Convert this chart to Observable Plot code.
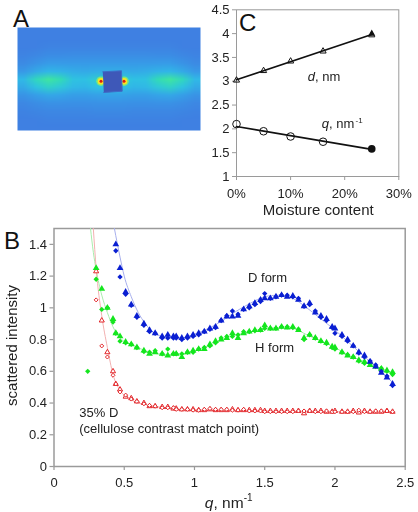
<!DOCTYPE html>
<html><head><meta charset="utf-8">
<script src="https://cdn.jsdelivr.net/npm/d3@7"></script>
<script src="https://cdn.jsdelivr.net/npm/@observablehq/plot@0.6"></script>
<style>
html,body{margin:0;padding:0;background:#fff}
#root{position:relative;width:418px;height:512px;overflow:hidden;font-family:"Liberation Sans",Arial,sans-serif;color:#222}
#root svg{position:absolute;left:0;top:0;background:transparent;filter:blur(.35px)}
.panel{position:absolute;font-size:24px;line-height:24px;color:#111}
</style></head><body><div id="root"></div>
<script>
// Panel A: detector intensity (15 columns x 13 rows)
const detectorCols = 15, detectorRows = 13;
const detectorGrid = [
 .00,.00,.00,.00,.00,.00,.00,.00,.00,.00,.00,.00,.00,.00,.00,
 .00,.00,.00,.00,.00,.00,.00,.00,.00,.00,.00,.00,.00,.00,.00,
 .00,.01,.03,.03,.03,.03,.03,.03,.03,.03,.03,.03,.03,.01,.00,
 .03,.06,.09,.09,.10,.10,.10,.10,.10,.10,.10,.09,.09,.06,.03,
 .08,.14,.20,.20,.19,.19,.19,.19,.19,.19,.19,.20,.20,.14,.08,
 .18,.30,.38,.36,.32,.30,.32,.32,.32,.30,.32,.36,.38,.30,.18,
 .40,.66,.84,.70,.48,.46,.56,.54,.56,.46,.48,.70,.84,.66,.40,
 .30,.48,.60,.52,.40,.38,.46,.46,.46,.38,.40,.52,.60,.48,.30,
 .14,.22,.28,.26,.22,.22,.24,.24,.24,.22,.22,.26,.28,.22,.14,
 .06,.10,.13,.13,.12,.12,.13,.13,.13,.12,.12,.13,.13,.10,.06,
 .02,.04,.06,.06,.06,.06,.07,.07,.07,.06,.06,.06,.06,.04,.02,
 .00,.01,.02,.02,.02,.02,.02,.02,.02,.02,.02,.02,.02,.01,.00,
 .00,.00,.00,.00,.00,.00,.00,.00,.00,.00,.00,.00,.00,.00,.00
];
const beamStopX = [85.3,104,104.7,86.3];
const beamStopY = [44.3,43.3,63.7,65];
const hotSpotX = [83.5,106.5];
const hotSpotY = [53.7,53.7];

// Panel B: scattering curves
const q = [.30,.34,.38,.42,.44,.47,.51,.55,.59,.64,.68,.72,.77,.81,.85,.87,.91,.95,.99,1.03,1.07,1.11,1.15,1.19,1.23,1.27,1.31,1.35,1.39,1.43,1.47,1.50,1.54,1.58,1.62,1.66,1.70,1.74,1.78,1.82,1.86,1.90,1.94,1.98,2.00,2.05,2.09,2.13,2.17,2.21,2.25,2.29,2.33,2.37,2.41];
const dTriangle = [null,null,null,null,1.40,1.25,1.10,1.02,.95,.90,.86,.84,.82,.83,.82,.82,.81,.82,.83,.84,.85,.87,.88,.92,.945,.945,.95,.99,1.01,1.03,1.05,1.06,1.06,1.07,1.08,1.07,1.075,1.05,1.01,1.03,.97,.95,.93,.88,.87,.83,.80,.76,.72,.70,.66,.63,.59,.56,.52];
const dDiamond = [null,null,null,null,1.36,1.195,1.085,1.015,.94,.89,.85,.84,.81,.81,.81,.81,.80,.81,.82,.83,.85,.865,.875,.92,.95,.98,.96,.99,1.00,1.02,1.04,1.09,1.06,1.07,1.08,1.08,1.07,1.06,1.01,1.02,.98,.94,.92,.875,.84,.82,.79,.76,.715,.69,.665,.64,.60,.57,.51];
const hTriangle = [1.25,1.12,1.00,.93,.84,.82,.785,.77,.75,.73,.71,.72,.71,.70,.71,.71,.69,.72,.73,.74,.74,.77,.79,.80,.81,.84,.81,.84,.85,.86,.86,.89,.87,.87,.88,.875,.88,.86,.81,.83,.81,.79,.78,.755,.75,.72,.70,.69,.67,.66,.64,.63,.615,.605,.595];
const hDiamond = [1.18,.99,1.00,.91,.84,.79,.78,.77,.75,.725,.72,.73,.71,.74,.71,.71,.71,.72,.72,.74,.75,.76,.78,.81,.82,.82,.83,.85,.85,.855,.86,.87,.87,.87,.88,.88,.875,.865,.80,.83,.81,.79,.775,.75,.74,.72,.705,.69,.665,.65,.65,.63,.62,.60,.58];
const mTriangle = [1.23,.92,.72,.60,.52,.485,.44,.43,.41,.40,.38,.38,.375,.375,.365,.365,.36,.36,.36,.355,.355,.36,.355,.355,.355,.36,.355,.355,.355,.355,.355,.35,.35,.35,.35,.35,.35,.35,.335,.35,.35,.35,.345,.345,.35,.345,.345,.35,.34,.35,.345,.345,.345,.35,.345];
const mDiamond = [1.05,.76,.69,.575,.52,.47,.45,.425,.41,.395,.385,.38,.37,.37,.37,.36,.36,.36,.355,.355,.36,.365,.36,.36,.36,.355,.355,.36,.35,.35,.35,.345,.345,.345,.345,.345,.345,.35,.35,.35,.345,.345,.35,.345,.345,.345,.345,.345,.355,.345,.345,.35,.35,.35,.345];
const strayQ = [.24], strayI = [.60];

const fitDq = [.43,.47,.50,.55,.60,.65,.70,.80,.90,1.0,1.1,1.2,1.3,1.4,1.5,1.6,1.7,1.8,1.9,2.0,2.1,2.2,2.3,2.41];
const fitDI = [1.5,1.32,1.2,1.07,.97,.90,.85,.815,.81,.835,.87,.92,.98,1.03,1.07,1.08,1.06,1.0,.93,.86,.78,.70,.62,.53];
const fitHq = [.26,.28,.30,.34,.38,.42,.47,.55,.65,.80,.90,1.0,1.1,1.2,1.3,1.4,1.5,1.6,1.7,1.8,1.9,2.0,2.1,2.2,2.3,2.41];
const fitHI = [1.5,1.35,1.24,1.08,.97,.88,.81,.77,.73,.705,.705,.73,.76,.80,.83,.85,.87,.875,.87,.83,.79,.75,.70,.665,.63,.59];
const fitMq = [.28,.30,.34,.38,.42,.47,.55,.65,.80,1.0,1.5,2.0,2.41];
const fitMI = [1.5,1.25,.95,.75,.58,.48,.42,.39,.37,.355,.35,.345,.345];

const bTicksX = [0,.5,1,1.5,2,2.5];
const bTicksY = [0,.2,.4,.6,.8,1,1.2,1.4];

// Panel C: moisture dependence
const moisture = [0,5,10,16,25];
const dNm = [3.02,3.22,3.42,3.63,3.97];
const qNm = [2.10,1.95,1.84,1.73,1.58];
const dFit = [3.03,3.98], qFit = [2.05,1.57], fitMoisture = [0,25];
const filledMoisture = [25], filledD = [4.0], filledQ = [1.58];
const cTicksX = [0,10,20,30];
const cTicksY = [1,1.5,2,2.5,3,3.5,4,4.5];

const pts = (xs, ys) => xs.map((x,i)=>({x,y:ys[i]})).filter(d=>d.y!=null);
const root = document.getElementById("root");
const grey = "#9a9a9a", ink = "#222";
const font = '"Liberation Sans",Arial,sans-serif';

// Panel A
root.append(Plot.plot({
  width:418,height:512,marginLeft:17,marginRight:218,marginTop:27,marginBottom:382,
  style:{fontFamily:font,background:"transparent"},
  x:{domain:[0,183],axis:null},y:{domain:[0,103],reverse:true,axis:null},
  color:{type:"linear",domain:[0,.2,.45,.7,1],range:["#3f80e2","#379ce8","#2fc0e6","#33dcb4","#4ff08c"]},
  marks:[
    Plot.raster(detectorGrid,{width:detectorCols,height:detectorRows,x1:0,x2:183,y1:0,y2:103,fill:d=>d,imageRendering:"auto"}),
    Plot.dot(pts(hotSpotX,hotSpotY),{x:"x",y:"y",r:4.8,fill:"#7ce87a"}),
    Plot.dot(pts(hotSpotX,hotSpotY),{x:"x",y:"y",r:3.2,fill:"#ffe020"}),
    Plot.dot(pts(hotSpotX,hotSpotY),{x:"x",y:"y",r:1.5,fill:"#d81e10"}),
    Plot.line(pts(beamStopX,beamStopY),{x:"x",y:"y",fill:"#3e58b8",stroke:"#3e6cc8",strokeWidth:1,z:null})
  ]
}));

// Panel B
const blue="#0a1fd2", green="#14e61e", red="#e2262a";
const tri=2.5, dia=2.4;
root.append(Plot.plot({
  width:418,height:512,marginLeft:53.5,marginRight:13.3,marginTop:228,marginBottom:46,
  style:{fontFamily:font,background:"transparent",color:ink},
  x:{domain:[0,2.5]},y:{domain:[0,1.5]},
  marks:[
    Plot.frame({stroke:grey,strokeWidth:1.5}),
    Plot.axisX({ticks:bTicksX,tickFormat:String,tickSize:4,tickPadding:7,fontSize:13,stroke:grey,fill:ink,strokeWidth:1.2,label:null}),
    Plot.axisY({ticks:bTicksY,tickFormat:String,tickSize:4,tickPadding:3,fontSize:13,stroke:grey,fill:ink,strokeWidth:1.2,label:null}),
    Plot.text(["scattered intensity"],{x:[-.3],y:[.763],rotate:-90,fontSize:15,fill:ink}),
    Plot.line(pts(fitDq,fitDI),{x:"x",y:"y",stroke:"#a6aeec",strokeWidth:1,curve:"monotone-x"}),
    Plot.line(pts(fitHq,fitHI),{x:"x",y:"y",stroke:"#a8ecac",strokeWidth:1,curve:"monotone-x"}),
    Plot.line(pts(fitMq,fitMI),{x:"x",y:"y",stroke:"#f2b0b0",strokeWidth:1,curve:"monotone-x"}),
    Plot.dot(pts(q,mTriangle),{x:"x",y:"y",symbol:"triangle",r:1.9,stroke:red,strokeWidth:1,fill:"#fff"}),
    Plot.dot(pts(q,mDiamond),{x:"x",y:"y",symbol:"diamond2",r:1.8,stroke:red,strokeWidth:1,fill:"#fff"}),
    Plot.dot(pts(q,hTriangle),{x:"x",y:"y",symbol:"triangle",r:tri,fill:green}),
    Plot.dot(pts(q,hDiamond),{x:"x",y:"y",symbol:"diamond2",r:dia,fill:green}),
    Plot.dot(pts(strayQ,strayI),{x:"x",y:"y",symbol:"diamond2",r:dia,fill:green}),
    Plot.dot(pts(q,dTriangle),{x:"x",y:"y",symbol:"triangle",r:tri,fill:blue}),
    Plot.dot(pts(q,dDiamond),{x:"x",y:"y",symbol:"diamond2",r:dia,fill:blue}),
    Plot.text(["D form"],{x:[1.52],y:[1.19],fontSize:13,fill:ink}),
    Plot.text(["H form"],{x:[1.57],y:[.745],fontSize:13,fill:ink}),
    Plot.text(["35% D"],{x:[.18],y:[.34],textAnchor:"start",fontSize:13,fill:ink}),
    Plot.text(["(cellulose contrast match point)"],{x:[.18],y:[.24],textAnchor:"start",fontSize:13,fill:ink}),
    Plot.text(["q"],{x:[1.135],y:[-.23],textAnchor:"end",fontSize:15.5,fontStyle:"italic",fill:ink}),
    Plot.text([", nm"],{x:[1.135],y:[-.23],textAnchor:"start",fontSize:15.5,fill:ink}),
    Plot.text(["-1"],{x:[1.35],y:[-.195],textAnchor:"start",fontSize:10,fill:ink})
  ]
}));

// Panel C
root.append(Plot.plot({
  width:418,height:512,marginLeft:236,marginRight:19.7,marginTop:9.3,marginBottom:336,
  style:{fontFamily:font,background:"transparent",color:ink},
  x:{domain:[0,30]},y:{domain:[1,4.5]},
  marks:[
    Plot.frame({stroke:grey,strokeWidth:1}),
    Plot.axisX({ticks:cTicksX,tickFormat:d=>d+"%",tickSize:4,tickPadding:8,fontSize:13,stroke:grey,fill:ink,label:null}),
    Plot.axisY({ticks:cTicksY,tickFormat:String,tickSize:4,tickPadding:3,fontSize:13,stroke:grey,fill:ink,label:null}),
    Plot.line(pts(fitMoisture,dFit),{x:"x",y:"y",stroke:"#111",strokeWidth:1.7}),
    Plot.line(pts(fitMoisture,qFit),{x:"x",y:"y",stroke:"#111",strokeWidth:1.7}),
    Plot.dot(pts(moisture,dNm),{x:"x",y:"y",symbol:"triangle",r:2.3,stroke:"#111",strokeWidth:1,fill:"none"}),
    Plot.dot(pts(filledMoisture,filledD),{x:"x",y:"y",symbol:"triangle",r:2.6,fill:"#111"}),
    Plot.dot(pts(moisture.slice(0,4),qNm),{x:"x",y:"y",symbol:"circle",r:3.8,stroke:"#111",strokeWidth:1,fill:"none"}),
    Plot.dot(pts(filledMoisture,filledQ),{x:"x",y:"y",symbol:"circle",r:3.8,fill:"#111"}),
    Plot.text(["d"],{x:[14.5],y:[3.1],textAnchor:"end",fontSize:13,fontStyle:"italic",fill:ink}),
    Plot.text([", nm"],{x:[14.5],y:[3.1],textAnchor:"start",fontSize:13,fill:ink}),
    Plot.text(["q"],{x:[17.1],y:[2.1],textAnchor:"end",fontSize:13,fontStyle:"italic",fill:ink}),
    Plot.text([", nm"],{x:[17.1],y:[2.1],textAnchor:"start",fontSize:13,fill:ink}),
    Plot.text(["-1"],{x:[22],y:[2.17],textAnchor:"start",fontSize:8,fill:ink}),
    Plot.text(["Moisture content"],{x:[15.1],y:[.29],fontSize:15,fill:ink})
  ]
}));

for (const [t,l,tp] of [["A",13,7],["B",4,229],["C",239,11]]) {
  const d=document.createElement("div");d.className="panel";d.textContent=t;d.style.left=l+"px";d.style.top=tp+"px";root.append(d);
}
</script></body></html>
